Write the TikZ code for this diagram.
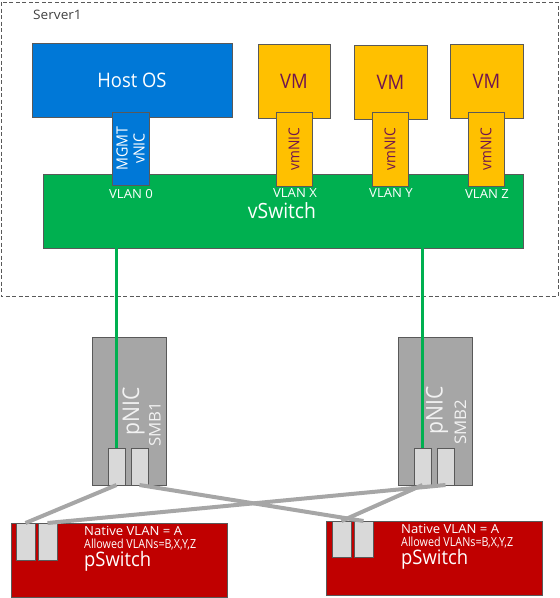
\documentclass[tikz,border=0pt]{standalone}
\usepackage{fontspec}
\setmainfont{Open Sans}[FakeStretch=0.92]
\newfontfamily\widefont{Open Sans}[FakeStretch=1.05]
\newfontfamily\condfont{Open Sans}[FakeStretch=0.86]
\definecolor{hostblue}{RGB}{0,120,215}
\definecolor{vmyellow}{RGB}{255,192,0}
\definecolor{vmtext}{RGB}{112,20,80}
\definecolor{swgreen}{RGB}{0,176,80}
\definecolor{nicgray}{RGB}{166,166,166}
\definecolor{portgray}{RGB}{217,217,217}
\definecolor{psred}{RGB}{192,0,0}
\definecolor{edgegray}{RGB}{89,89,89}
\definecolor{servertext}{RGB}{64,64,64}
\newcommand{\fs}[1]{\fontsize{#1}{#1}\selectfont}
\begin{document}
\begin{tikzpicture}[x=1pt,y=-1pt,
  box/.style={draw=edgegray, line width=1pt, inner sep=0pt, outer sep=0pt},
  hostbox/.style={box, fill=hostblue, text=white},
  vmbox/.style={box, fill=vmyellow, text=vmtext},
  swbox/.style={box, fill=swgreen, text=white},
  pnicbox/.style={box, fill=nicgray, minimum width=74pt, minimum height=148pt},
  portbox/.style={box, fill=portgray},
  psbox/.style={box, fill=psred, minimum width=216pt, minimum height=74pt},
  vlan/.style={text=white, font=\widefont\fs{12.5}, inner sep=0pt},
  rottext/.style={rotate=90, inner sep=0pt, align=center},
  pstext/.style={anchor=base west, text=white, inner sep=0pt},
  grayline/.style={draw=nicgray, line width=4pt},
  greenline/.style={draw=swgreen, line width=3pt}
]
\useasboundingbox (0,0) rectangle (560,598);

% server frame
\draw[edgegray, line width=1pt, dash pattern=on 4pt off 2.5pt] (1,2) rectangle (558,296);
\node[anchor=base west, inner sep=0pt, text=servertext, font=\widefont\fs{13}] (server) at (33,19) {Server1};

% host and VMs
\node[hostbox, minimum width=200pt, minimum height=74pt, font=\fs{20}] (host) at (132,80) {Host OS};
\node[vmbox, minimum width=72pt, minimum height=74pt, font=\fs{20}] (vm1) at (294,81) {VM};
\node[vmbox, minimum width=73pt, minimum height=74pt, font=\fs{20}] (vm2) at (390.5,82) {VM};
\node[vmbox, minimum width=73pt, minimum height=74pt, font=\fs{20}] (vm3) at (486.5,81) {VM};

% vSwitch
\node[swbox, minimum width=480pt, minimum height=74pt] (vswitch) at (283,211) {};
\node[text=white, font=\fs{21}, inner sep=0pt] (vswlabel) at (282,211) {vSwitch};

% vNICs
\node[box, fill=hostblue, minimum width=37pt, minimum height=73pt] (mgmt) at (130.5,148.5) {};
\node[rottext, text=white, font=\fs{15.5}] (mgmtlabel) at (mgmt) {MGMT\\[1.5pt]vNIC};
\node[vmbox, minimum width=36pt, minimum height=74pt] (nic1) at (294,149) {};
\node[vmbox, minimum width=36pt, minimum height=74pt] (nic2) at (390,149) {};
\node[vmbox, minimum width=36pt, minimum height=74pt] (nic3) at (486,149) {};
\node[rottext, text=vmtext, font=\fs{15}] (nic1label) at (nic1) {vmNIC};
\node[rottext, text=vmtext, font=\fs{15}] (nic2label) at (nic2) {vmNIC};
\node[rottext, text=vmtext, font=\fs{15}] (nic3label) at (nic3) {vmNIC};

% VLAN labels
\node[vlan] (vl0) at (131,194) {VLAN 0};
\node[vlan] (vlx) at (295,193) {VLAN X};
\node[vlan] (vly) at (391,193) {VLAN Y};
\node[vlan] (vlz) at (487,194) {VLAN Z};

% pNICs
\node[pnicbox] (pnic1) at (129,411) {};
\node[portbox, minimum width=17pt, minimum height=37pt] (p11) at (116.5,466.5) {};
\node[portbox, minimum width=17pt, minimum height=37pt] (p12) at (139.5,466.5) {};
\node[pnicbox] (pnic2) at (435,411) {};
\node[portbox, minimum width=17pt, minimum height=37pt] (p21) at (422.5,466.5) {};
\node[portbox, minimum width=17pt, minimum height=37pt] (p22) at (445.5,466.5) {};

% green uplinks
\draw[greenline] (vswitch.south -| p11.north) -- (p11.north);
\draw[greenline] (vswitch.south -| p21.north) -- (p21.north);

\node[rottext, text=white!95!black, font=\fs{23}] (pnic1label) at (133.5,411) {pNIC};
\node[rottext, text=white!95!black, font=\widefont\fs{16}] (smb1label) at (155,424.5) {SMB1};
\node[rottext, text=white!95!black, font=\fs{23}] (pnic2label) at (437,410) {pNIC};
\node[rottext, text=white!95!black, font=\widefont\fs{16}] (smb2label) at (460.5,422) {SMB2};

% pSwitches
\node[psbox] (ps1) at (119,560) {};
\node[portbox, minimum width=19pt, minimum height=37pt] (s11) at (25.5,541.5) {};
\node[portbox, minimum width=19pt, minimum height=37pt] (s12) at (47.5,541.5) {};
\node[pstext, font=\widefont\fs{12.5}] (ps1a) at (84,535) {Native VLAN = A};
\node[pstext, font=\condfont\fs{12.5}] (ps1b) at (84,548) {Allowed VLANs=B,X,Y,Z};
\node[pstext, font=\fs{20}] (ps1c) at (84,566) {pSwitch};

\node[psbox] (ps2) at (434,558) {};
\node[portbox, minimum width=19pt, minimum height=36pt] (s21) at (341.5,539) {};
\node[portbox, minimum width=19pt, minimum height=36pt] (s22) at (363.5,539) {};
\node[pstext, font=\widefont\fs{12.5}] (ps2a) at (401,533) {Native VLAN = A};
\node[pstext, font=\condfont\fs{12.5}] (ps2b) at (401,546) {Allowed VLANs=B,X,Y,Z};
\node[pstext, font=\fs{20}] (ps2c) at (401,564) {pSwitch};

% cabling
\draw[grayline] (p11.south) -- (s11.north);
\draw[grayline] (p12.south) -- (s22.north);
\draw[grayline] (p21.south) -- (s21.north);
\draw[grayline] (p22.south) -- (s12.north);
\end{tikzpicture}
\end{document}
